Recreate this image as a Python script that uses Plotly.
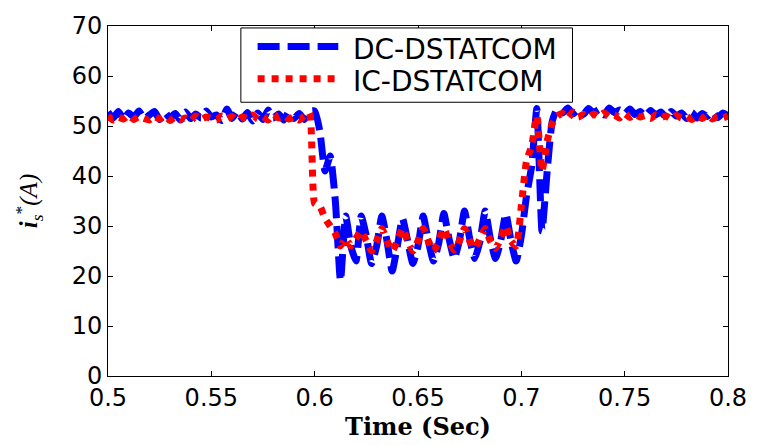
import plotly.graph_objects as go

# time grid (s)
t_start = 0.5
t_step = 0.0025
n_points = 121
time = [round(t_start + i * t_step, 4) for i in range(n_points)]

dc_dstatcom = [
    52.8, 51.6, 52.9, 51.4, 52.6, 51.8, 53.0, 51.5, 52.2, 52.9,
    51.3, 52.7, 51.6, 52.5, 51.2, 52.8, 51.5, 52.4, 51.6, 53.0,
    51.8, 52.2, 51.1, 53.4, 51.5, 52.9, 51.4, 52.7, 51.0, 52.6,
    51.3, 53.2, 51.6, 52.4, 51.2, 52.8, 51.5, 52.5, 51.3, 52.9,
    53.0, 49.0, 41.0, 44.0, 35.0, 19.0, 32.0, 26.0, 23.0, 32.0,
    28.0, 22.5, 26.0, 32.0, 27.0, 21.0, 26.0, 31.5, 27.0, 22.5,
    26.0, 32.0, 27.0, 23.0, 26.5, 32.5, 27.5, 23.5, 27.0, 33.0,
    27.5, 23.5, 27.0, 33.0, 27.5, 23.5, 27.0, 32.5, 27.0, 23.0,
    28.0, 36.0, 42.0, 53.5, 29.0, 41.0, 51.0, 53.5,
    52.6, 53.6, 52.4, 53.2, 52.3, 53.5, 52.6, 53.3, 52.2, 53.6,
    52.7, 53.2, 52.4, 53.4, 52.3, 52.9, 52.0, 53.1, 52.2, 52.8,
    51.8, 52.9, 52.0, 52.6, 51.5, 52.7, 51.6, 52.5, 51.9, 52.8,
    51.7, 52.6, 52.0,
]

ic_dstatcom = [
    52.0, 51.2, 51.8, 51.4, 52.1, 51.3, 51.9, 51.5, 51.2, 51.9,
    51.4, 52.0, 51.1, 51.8, 51.3, 51.6, 51.0, 52.0, 51.3, 51.8,
    51.5, 51.2, 52.0, 51.4, 51.9, 51.1, 51.8, 51.5, 52.2, 51.4,
    51.9, 51.2, 52.3, 51.6, 52.1, 51.4, 51.8, 51.2, 52.0, 52.6,
    34.5, 34.0, 31.5, 30.0, 28.5, 26.0, 27.5, 26.0, 27.5, 29.0,
    27.0, 25.0, 27.0, 29.5, 27.0, 25.0, 27.0, 29.5, 27.0, 25.0,
    27.0, 29.5, 27.0, 25.0, 27.0, 29.5, 27.0, 25.2, 27.0, 29.5,
    27.0, 25.5, 27.5, 29.5, 27.0, 25.5, 27.5, 30.0, 27.0, 26.0,
    34.0, 43.0, 46.0, 52.0, 41.0, 47.0, 50.5, 52.0,
    52.5, 51.6, 52.8, 51.8, 52.3, 51.7, 52.4, 51.9, 52.6, 51.8,
    52.2, 51.6, 52.5, 51.7, 52.3, 51.8, 52.1, 51.5, 52.2, 51.7,
    52.0, 51.4, 52.1, 51.6, 51.9, 51.3, 52.0, 51.5, 52.2, 51.4,
    51.9, 51.6, 52.0,
]

series_names = ["DC-DSTATCOM", "IC-DSTATCOM"]
series_colors = ["#0000ff", "#ff0000"]
series_dash = ["22px,8px", "7px,7px"]

x_ticks = [0.5, 0.55, 0.6, 0.65, 0.7, 0.75, 0.8]
x_tick_text = ["0.5", "0.55", "0.6", "0.65", "0.7", "0.75", "0.8"]
y_ticks = [0, 10, 20, 30, 40, 50, 60, 70]

fig = go.Figure()
for name, vals, col, dash in zip(series_names, [dc_dstatcom, ic_dstatcom], series_colors, series_dash):
    fig.add_trace(go.Scatter(
        x=time, y=vals, mode="lines", name=name, showlegend=False,
        line=dict(color=col, width=7, dash=dash, shape="spline", smoothing=0.5),
    ))

axis_common = dict(
    showline=True, linecolor="black", linewidth=1, mirror="ticks",
    ticks="inside", ticklen=5, tickcolor="black", tickwidth=1,
    showgrid=False, zeroline=False,
    tickfont=dict(family="DejaVu Sans, sans-serif", size=24, color="black"),
)

# legend box drawn in paper coordinates (inside the axes, top centre)
leg_x0, leg_x1, leg_y0, leg_y1 = 0.2143, 0.7492, 0.7821, 0.9944
sample_x0, sample_x1 = 0.2413, 0.3714
sample_y = [0.9413, 0.8492]
label_x = 0.392
label_y = [0.9330, 0.8408]

shapes = [dict(type="rect", xref="paper", yref="paper", x0=leg_x0, x1=leg_x1, y0=leg_y0, y1=leg_y1,
               line=dict(color="black", width=1), fillcolor="white", layer="above")]
annotations = []
for name, col, dash, sy, ly in zip(series_names, series_colors, series_dash, sample_y, label_y):
    shapes.append(dict(type="line", xref="paper", yref="paper", x0=sample_x0, x1=sample_x1, y0=sy, y1=sy,
                       line=dict(color=col, width=7, dash=dash), layer="above"))
    annotations.append(dict(xref="paper", yref="paper", x=label_x, y=ly, xanchor="left", yanchor="middle",
                            text=name, showarrow=False,
                            font=dict(family="DejaVu Sans, sans-serif", size=28, color="black")))

fig.update_layout(
    width=759, height=445,
    margin=dict(l=108, r=21, t=19, b=68),
    paper_bgcolor="white", plot_bgcolor="white",
    xaxis=dict(
        range=[0.5, 0.8], tickvals=x_ticks, ticktext=x_tick_text,
        title=dict(text="<b>Time (Sec)</b>", standoff=4,
                   font=dict(family="DejaVu Serif, serif", size=24, color="black")),
        **axis_common,
    ),
    yaxis=dict(
        range=[0, 70], tickvals=y_ticks,
        title=dict(text="<b><i>i</i></b><sub><i>s</i></sub><sup>*</sup><i>(A)</i>", standoff=26,
                   font=dict(family="Liberation Serif, Times New Roman, serif", size=25, color="black")),
        **axis_common,
    ),
    shapes=shapes,
    annotations=annotations,
    showlegend=False,
)

fig.write_html("out.html")
